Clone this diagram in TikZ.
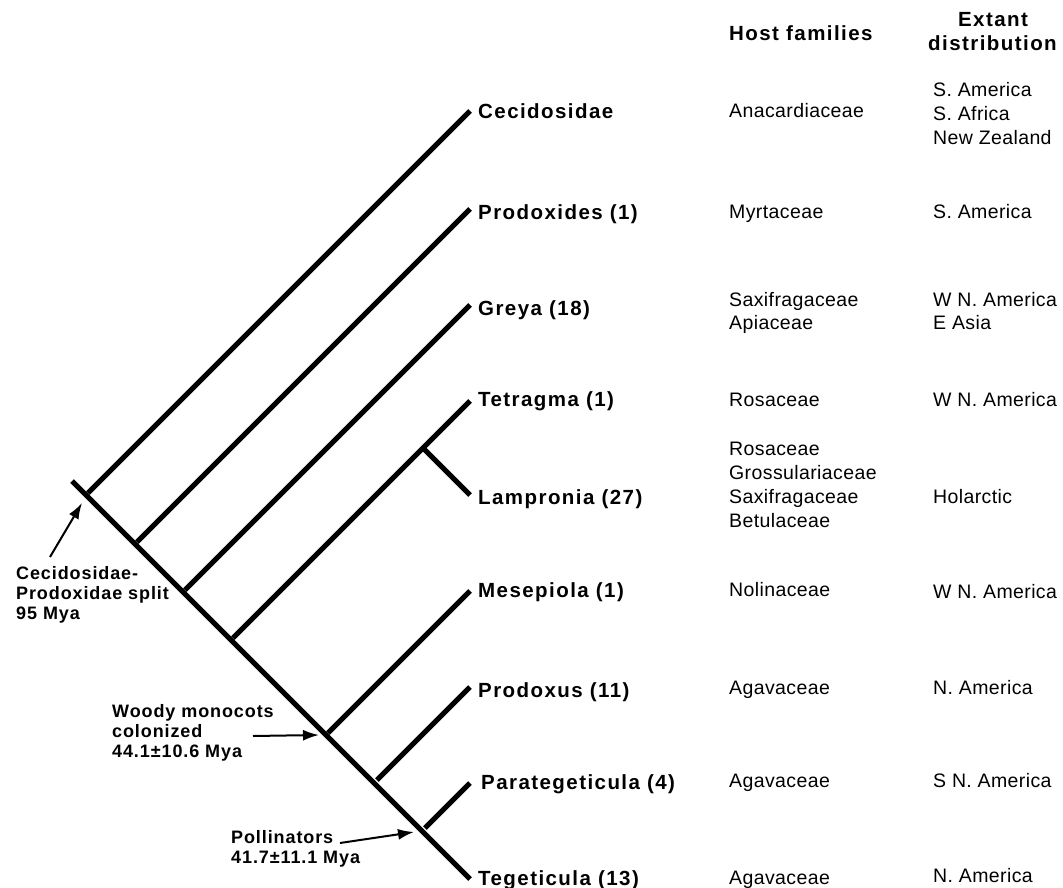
\documentclass[tikz,border=0pt]{standalone}
\usepackage{fontspec}
\setmainfont{Liberation Sans}
\newfontfamily\taxfont{Liberation Sans}[LetterSpace=7]
\newfontfamily\notefont{Liberation Sans}[LetterSpace=5]
\newfontfamily\regfont{Liberation Sans}[LetterSpace=2]
\usetikzlibrary{arrows.meta}
\begin{document}
\begin{tikzpicture}[x=1pt,y=-1pt,
  branch/.style={line width=5pt,line cap=butt},
  taxon/.style={anchor=base west,inner sep=0pt,font=\taxfont\bfseries\fontsize{20.5}{24}\selectfont},
  head/.style={anchor=base west,inner sep=0pt,font=\taxfont\bfseries\fontsize{20.5}{24}\selectfont},
  cell/.style={anchor=base west,inner sep=0pt,font=\regfont\fontsize{19.5}{24}\selectfont},
  note/.style={anchor=base west,inner sep=0pt,font=\notefont\bfseries\fontsize{18}{20}\selectfont},
  pointer/.style={line width=2pt,-{Latex[length=16pt,width=11pt]}}]
\useasboundingbox (0,0) rectangle (1063,888);
% tree coordinates
\coordinate (root) at (72,481);
\coordinate (j1) at (88,493);
\coordinate (j2) at (137,542);
\coordinate (j3) at (185,590);
\coordinate (j4) at (233,638);
\coordinate (split) at (423,448);
\coordinate (j5) at (328,733);
\coordinate (j6) at (377,780);
\coordinate (j7) at (425,828);
\coordinate (t1) at (470,111);
\coordinate (t2) at (470,209);
\coordinate (t3) at (470,305);
\coordinate (t4) at (470,401);
\coordinate (t5) at (470,495);
\coordinate (t6) at (470,591);
\coordinate (t7) at (470,687);
\coordinate (t8) at (470,783);
\coordinate (t9) at (470,879);
% branches
\draw[branch] (root) -- (t9);
\draw[branch] (j1) -- (t1);
\draw[branch] (j2) -- (t2);
\draw[branch] (j3) -- (t3);
\draw[branch] (j4) -- (t4);
\draw[branch] (split) -- (t5);
\draw[branch] (j5) -- (t6);
\draw[branch] (j6) -- (t7);
\draw[branch] (j7) -- (t8);
% taxa
\node[taxon] (n1) at (478,119) {Cecidosidae};
\node[taxon] (n2) at (478,219) {Prodoxides (1)};
\node[taxon] (n3) at (478,315) {Greya (18)};
\node[taxon] (n4) at (478,406) {Tetragma (1)};
\node[taxon] (n5) at (478,504) {Lampronia (27)};
\node[taxon] (n6) at (478,597) {Mesepiola (1)};
\node[taxon] (n7) at (478,697) {Prodoxus (11)};
\node[taxon] (n8) at (481,789) {Parategeticula (4)};
\node[taxon] (n9) at (478,885) {Tegeticula (13)};
% headers
\node[head] (hh) at (729,41) {Host families};
\node[head,anchor=base] (hd1) at (993,27) {Extant};
\node[head] (hd2) at (928,51) {distribution};
% host families
\node[cell] (h1) at (729,118) {Anacardiaceae};
\node[cell] (h2) at (729,218) {Myrtaceae};
\node[cell] (h3a) at (729,306) {Saxifragaceae};
\node[cell] (h3b) at (729,329) {Apiaceae};
\node[cell] (h4) at (729,406) {Rosaceae};
\node[cell] (h5a) at (729,455) {Rosaceae};
\node[cell] (h5b) at (729,479) {Grossulariaceae};
\node[cell] (h5c) at (729,503) {Saxifragaceae};
\node[cell] (h5d) at (729,527) {Betulaceae};
\node[cell] (h6) at (729,596) {Nolinaceae};
\node[cell] (h7) at (729,694) {Agavaceae};
\node[cell] (h8) at (729,787) {Agavaceae};
\node[cell] (h9) at (729,884) {Agavaceae};
% distribution
\node[cell] (d1a) at (933,97) {S. America};
\node[cell] (d1b) at (933,121) {S. Africa};
\node[cell] (d1c) at (933,145) {New Zealand};
\node[cell] (d2) at (933,218) {S. America};
\node[cell] (d3a) at (933,306) {W N. America};
\node[cell] (d3b) at (933,329) {E Asia};
\node[cell] (d4) at (933,406) {W N. America};
\node[cell] (d5) at (933,503) {Holarctic};
\node[cell] (d6) at (933,598) {W N. America};
\node[cell] (d7) at (933,694) {N. America};
\node[cell] (d8) at (933,787) {S N. America};
\node[cell] (d9) at (933,882) {N. America};
% annotations
\node[note] (c1) at (16,579) {Cecidosidae-};
\node[note] (c2) at (16,599) {Prodoxidae split};
\node[note] (c3) at (16,619) {95 Mya};
\node[note] (w1) at (112,717) {Woody monocots};
\node[note] (w2) at (112,737) {colonized};
\node[note] (w3) at (112,757) {44.1\char"00B1 10.6 Mya};
\node[note] (p1) at (231,843) {Pollinators};
\node[note] (p2) at (231,863) {41.7\char"00B1 11.1 Mya};
\coordinate (a1s) at (50,557);
\coordinate (a1e) at (82,503);
\coordinate (a2s) at (253,736);
\coordinate (a2e) at (319,735);
\coordinate (a3s) at (340,843);
\coordinate (a3e) at (414,832);
\draw[pointer] (a1s) -- (a1e);
\draw[pointer] (a2s) -- (a2e);
\draw[pointer] (a3s) -- (a3e);
\end{tikzpicture}
\end{document}
